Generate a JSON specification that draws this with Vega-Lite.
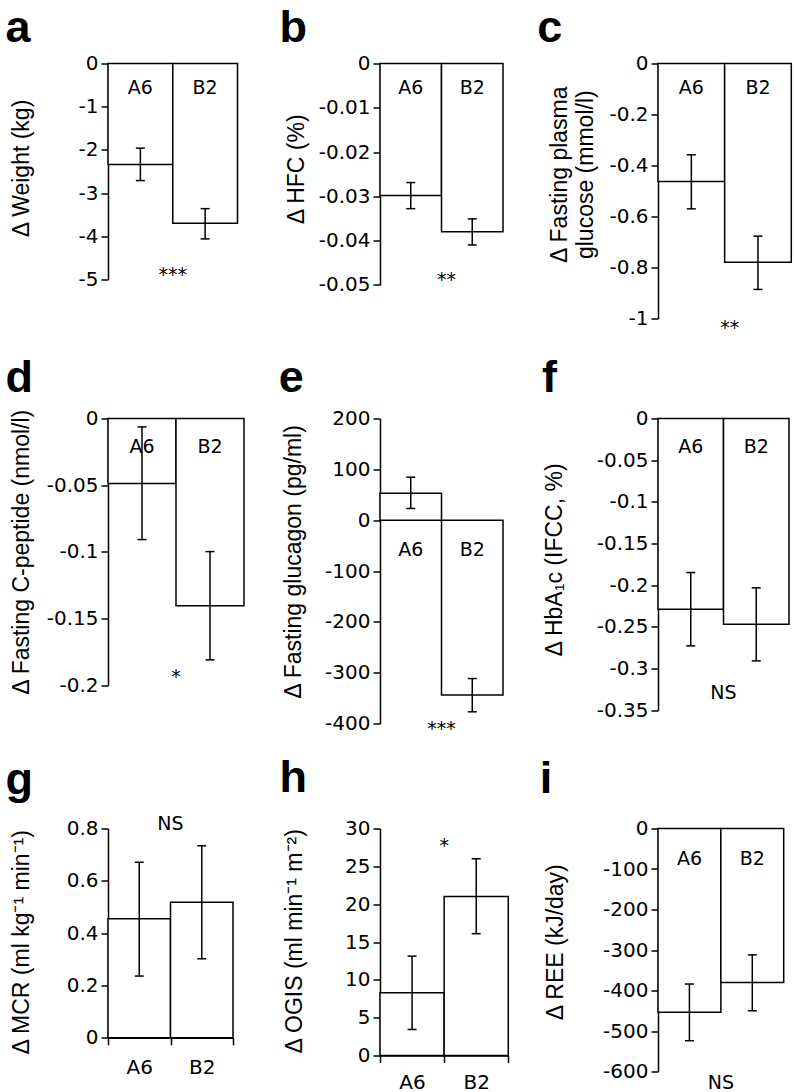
{
  "$schema": "https://vega.github.io/schema/vega-lite/v6.json",
  "background": "white",
  "padding": {"left": 5, "top": 5.5, "right": 5, "bottom": 5},
  "datasets": {
    "bars": [
      {"panel": "a", "group": "A6", "mean": -2.34, "lo": -2.71, "hi": -1.96},
      {"panel": "a", "group": "B2", "mean": -3.70, "lo": -4.06, "hi": -3.36},
      {"panel": "b", "group": "A6", "mean": -0.0298, "lo": -0.0328, "hi": -0.0269},
      {"panel": "b", "group": "B2", "mean": -0.0380, "lo": -0.0410, "hi": -0.0351},
      {"panel": "c", "group": "A6", "mean": -0.463, "lo": -0.570, "hi": -0.358},
      {"panel": "c", "group": "B2", "mean": -0.779, "lo": -0.886, "hi": -0.677},
      {"panel": "d", "group": "A6", "mean": -0.0488, "lo": -0.0908, "hi": -0.0063},
      {"panel": "d", "group": "B2", "mean": -0.1405, "lo": -0.181, "hi": -0.0998},
      {"panel": "e", "group": "A6", "mean": 53, "lo": 23, "hi": 84.6},
      {"panel": "e", "group": "B2", "mean": -344, "lo": -377, "hi": -311.6},
      {"panel": "f", "group": "A6", "mean": -0.2288, "lo": -0.2728, "hi": -0.1848},
      {"panel": "f", "group": "B2", "mean": -0.2468, "lo": -0.2908, "hi": -0.2032},
      {"panel": "g", "group": "A6", "mean": 0.455, "lo": 0.236, "hi": 0.671},
      {"panel": "g", "group": "B2", "mean": 0.5185, "lo": 0.302, "hi": 0.734},
      {"panel": "h", "group": "A6", "mean": 8.28, "lo": 3.44, "hi": 13.13},
      {"panel": "h", "group": "B2", "mean": 21.0, "lo": 16.1, "hi": 26.0},
      {"panel": "i", "group": "A6", "mean": -454, "lo": -524, "hi": -384},
      {"panel": "i", "group": "B2", "mean": -380, "lo": -450, "hi": -312}
    ],
    "sig": [
      {"panel": "a", "sig": "***"},
      {"panel": "b", "sig": "**"},
      {"panel": "c", "sig": "**"},
      {"panel": "d", "sig": "*"},
      {"panel": "e", "sig": "***"},
      {"panel": "f", "sig": "NS"},
      {"panel": "g", "sig": "NS"},
      {"panel": "h", "sig": "*"},
      {"panel": "i", "sig": "NS"}
    ]
  },
  "columns": 3,
  "spacing": {"row": 50, "column": 100},
  "bounds": "flush",
  "align": "each",
  "concat": [
    {
      "width": 171.8, "height": 304.7,
      "title": {"text": "a", "dx": -102.5, "dy": 1.7},
      "data": {"name": "bars"},
      "transform": [{"filter": "datum.panel === 'a'"}],
      "encoding": {"x": {"field": "group", "type": "nominal", "sort": ["A6", "B2"], "scale": {"range": [0, 129.5], "paddingInner": 0, "paddingOuter": 0}, "axis": null}},
      "layer": [
        {"mark": {"type": "bar", "fill": "white", "stroke": "black", "strokeWidth": 1.5},
         "encoding": {"y": {"field": "mean", "type": "quantitative", "scale": {"domain": [-5, 0], "range": [216, 0], "nice": false}, "axis": {"values": [0, -1, -2, -3, -4, -5], "tickCount": 6, "labelExpr": "replace(format(datum.value, '~g'), '−', '-')", "title": "Δ Weight (kg)", "titleX": -79.5, "titleY": 104.5}}}},
        {"mark": {"type": "rule", "color": "black", "strokeWidth": 1.5}, "encoding": {"y": {"field": "lo", "type": "quantitative"}, "y2": {"field": "hi"}}},
        {"mark": {"type": "tick", "color": "black", "size": 9, "thickness": 1.5, "opacity": 1}, "encoding": {"y": {"field": "lo", "type": "quantitative"}}},
        {"mark": {"type": "tick", "color": "black", "size": 9, "thickness": 1.5, "opacity": 1}, "encoding": {"y": {"field": "hi", "type": "quantitative"}}},
        {"mark": {"type": "text", "baseline": "middle", "dy": 24.5, "fontSize": 19, "color": "black"}, "encoding": {"y": {"datum": 0, "type": "quantitative"}, "text": {"field": "group"}}},
        {"data": {"name": "sig"}, "transform": [{"filter": "datum.panel === 'a'"}],
         "mark": {"type": "text", "baseline": "alphabetic", "dy": 1.7, "fontSize": 19, "color": "black"},
         "encoding": {"x": {"datum": "B2", "type": "nominal", "bandPosition": 0}, "y": {"datum": -5, "type": "quantitative"}, "text": {"field": "sig"}}}
      ]
    },
    {
      "width": 177.4, "height": 304.7,
      "title": {"text": "b", "dx": -100.6, "dy": 1.7},
      "data": {"name": "bars"},
      "transform": [{"filter": "datum.panel === 'b'"}],
      "encoding": {"x": {"field": "group", "type": "nominal", "sort": ["A6", "B2"], "scale": {"range": [0, 123], "paddingInner": 0, "paddingOuter": 0}, "axis": null}},
      "layer": [
        {"mark": {"type": "bar", "fill": "white", "stroke": "black", "strokeWidth": 1.5},
         "encoding": {"y": {"field": "mean", "type": "quantitative", "scale": {"domain": [-0.05, 0], "range": [221.3, 0], "nice": false}, "axis": {"values": [0, -0.01, -0.02, -0.03, -0.04, -0.05], "tickCount": 6, "labelExpr": "replace(format(datum.value, '~g'), '−', '-')", "title": "Δ HFC (%)", "titleX": -77, "titleY": 105.4}}}},
        {"mark": {"type": "rule", "color": "black", "strokeWidth": 1.5}, "encoding": {"y": {"field": "lo", "type": "quantitative"}, "y2": {"field": "hi"}}},
        {"mark": {"type": "tick", "color": "black", "size": 9, "thickness": 1.5, "opacity": 1}, "encoding": {"y": {"field": "lo", "type": "quantitative"}}},
        {"mark": {"type": "tick", "color": "black", "size": 9, "thickness": 1.5, "opacity": 1}, "encoding": {"y": {"field": "hi", "type": "quantitative"}}},
        {"mark": {"type": "text", "baseline": "middle", "dy": 24.5, "fontSize": 19, "color": "black"}, "encoding": {"y": {"datum": 0, "type": "quantitative"}, "text": {"field": "group"}}},
        {"data": {"name": "sig"}, "transform": [{"filter": "datum.panel === 'b'"}],
         "mark": {"type": "text", "baseline": "alphabetic", "dy": 1.4, "dx": 5, "fontSize": 19, "color": "black"},
         "encoding": {"x": {"datum": "B2", "type": "nominal", "bandPosition": 0}, "y": {"datum": -0.05, "type": "quantitative"}, "text": {"field": "sig"}}}
      ]
    },
    {
      "width": 133.3, "height": 304.7,
      "title": {"text": "c", "dx": -120.7, "dy": 1.7},
      "data": {"name": "bars"},
      "transform": [{"filter": "datum.panel === 'c'"}],
      "encoding": {"x": {"field": "group", "type": "nominal", "sort": ["A6", "B2"], "scale": {"range": [0, 133.3], "paddingInner": 0, "paddingOuter": 0}, "axis": null}},
      "layer": [
        {"mark": {"type": "bar", "fill": "white", "stroke": "black", "strokeWidth": 1.5},
         "encoding": {"y": {"field": "mean", "type": "quantitative", "scale": {"domain": [-1, 0], "range": [255, 0], "nice": false}, "axis": {"values": [0, -0.2, -0.4, -0.6, -0.8, -1], "tickCount": 6, "labelExpr": "replace(format(datum.value, '~g'), '−', '-')", "title": ["Δ Fasting plasma", "glucose (mmol/l)"], "titleLineHeight": 26.7, "titleX": -92, "titleY": 110.7}}}},
        {"mark": {"type": "rule", "color": "black", "strokeWidth": 1.5}, "encoding": {"y": {"field": "lo", "type": "quantitative"}, "y2": {"field": "hi"}}},
        {"mark": {"type": "tick", "color": "black", "size": 9, "thickness": 1.5, "opacity": 1}, "encoding": {"y": {"field": "lo", "type": "quantitative"}}},
        {"mark": {"type": "tick", "color": "black", "size": 9, "thickness": 1.5, "opacity": 1}, "encoding": {"y": {"field": "hi", "type": "quantitative"}}},
        {"mark": {"type": "text", "baseline": "middle", "dy": 24.5, "fontSize": 19, "color": "black"}, "encoding": {"y": {"datum": 0, "type": "quantitative"}, "text": {"field": "group"}}},
        {"data": {"name": "sig"}, "transform": [{"filter": "datum.panel === 'c'"}],
         "mark": {"type": "text", "baseline": "alphabetic", "dy": 15, "dx": 5, "fontSize": 19, "color": "black"},
         "encoding": {"x": {"datum": "B2", "type": "nominal", "bandPosition": 0}, "y": {"datum": -1, "type": "quantitative"}, "text": {"field": "sig"}}}
      ]
    },
    {
      "width": 171.8, "height": 359.5,
      "title": {"text": "d", "dx": -102.5, "dy": -4},
      "data": {"name": "bars"},
      "transform": [{"filter": "datum.panel === 'd'"}],
      "encoding": {"x": {"field": "group", "type": "nominal", "sort": ["A6", "B2"], "scale": {"range": [0, 136], "paddingInner": 0, "paddingOuter": 0}, "axis": null}},
      "layer": [
        {"mark": {"type": "bar", "fill": "white", "stroke": "black", "strokeWidth": 1.5},
         "encoding": {"y": {"field": "mean", "type": "quantitative", "scale": {"domain": [-0.2, 0], "range": [266.7, 0], "nice": false}, "axis": {"values": [0, -0.05, -0.1, -0.15, -0.2], "tickCount": 5, "labelExpr": "replace(format(datum.value, '~g'), '−', '-')", "title": "Δ Fasting C-peptide (nmol/l)", "titleX": -80, "titleY": 133.3}}}},
        {"mark": {"type": "rule", "color": "black", "strokeWidth": 1.5}, "encoding": {"y": {"field": "lo", "type": "quantitative"}, "y2": {"field": "hi"}}},
        {"mark": {"type": "tick", "color": "black", "size": 9, "thickness": 1.5, "opacity": 1}, "encoding": {"y": {"field": "lo", "type": "quantitative"}}},
        {"mark": {"type": "tick", "color": "black", "size": 9, "thickness": 1.5, "opacity": 1}, "encoding": {"y": {"field": "hi", "type": "quantitative"}}},
        {"mark": {"type": "text", "baseline": "middle", "dy": 28, "fontSize": 19, "color": "black"}, "encoding": {"y": {"datum": 0, "type": "quantitative"}, "text": {"field": "group"}}},
        {"data": {"name": "sig"}, "transform": [{"filter": "datum.panel === 'd'"}],
         "mark": {"type": "text", "baseline": "alphabetic", "dy": -2, "fontSize": 19, "color": "black"},
         "encoding": {"x": {"datum": "B2", "type": "nominal", "bandPosition": 0}, "y": {"datum": -0.2, "type": "quantitative"}, "text": {"field": "sig"}}}
      ]
    },
    {
      "width": 177.4, "height": 359.5,
      "title": {"text": "e", "dx": -101.3, "dy": -4},
      "data": {"name": "bars"},
      "transform": [{"filter": "datum.panel === 'e'"}],
      "encoding": {"x": {"field": "group", "type": "nominal", "sort": ["A6", "B2"], "scale": {"range": [0, 123], "paddingInner": 0, "paddingOuter": 0}, "axis": null}},
      "layer": [
        {"mark": {"type": "bar", "fill": "white", "stroke": "black", "strokeWidth": 1.5},
         "encoding": {"y": {"field": "mean", "type": "quantitative", "scale": {"domain": [-400, 200], "range": [305, 0], "nice": false}, "axis": {"values": [200, 100, 0, -100, -200, -300, -400], "tickCount": 7, "labelExpr": "replace(format(datum.value, '~g'), '−', '-')", "title": "Δ Fasting glucagon (pg/ml)", "titleX": -79.3, "titleY": 143}}}},
        {"mark": {"type": "rule", "color": "black", "strokeWidth": 1.5}, "encoding": {"y": {"field": "lo", "type": "quantitative"}, "y2": {"field": "hi"}}},
        {"mark": {"type": "tick", "color": "black", "size": 9, "thickness": 1.5, "opacity": 1}, "encoding": {"y": {"field": "lo", "type": "quantitative"}}},
        {"mark": {"type": "tick", "color": "black", "size": 9, "thickness": 1.5, "opacity": 1}, "encoding": {"y": {"field": "hi", "type": "quantitative"}}},
        {"mark": {"type": "text", "baseline": "middle", "dy": 30, "fontSize": 19, "color": "black"}, "encoding": {"y": {"datum": 0, "type": "quantitative"}, "text": {"field": "group"}}},
        {"data": {"name": "sig"}, "transform": [{"filter": "datum.panel === 'e'"}],
         "mark": {"type": "text", "baseline": "alphabetic", "dy": 11, "fontSize": 19, "color": "black"},
         "encoding": {"x": {"datum": "B2", "type": "nominal", "bandPosition": 0}, "y": {"datum": -400, "type": "quantitative"}, "text": {"field": "sig"}}}
      ]
    },
    {
      "width": 131, "height": 359.5,
      "title": {"text": "f", "dx": -115.9, "dy": -4},
      "data": {"name": "bars"},
      "transform": [{"filter": "datum.panel === 'f'"}],
      "encoding": {"x": {"field": "group", "type": "nominal", "sort": ["A6", "B2"], "scale": {"range": [0, 131], "paddingInner": 0, "paddingOuter": 0}, "axis": null}},
      "layer": [
        {"mark": {"type": "bar", "fill": "white", "stroke": "black", "strokeWidth": 1.5},
         "encoding": {"y": {"field": "mean", "type": "quantitative", "scale": {"domain": [-0.35, 0], "range": [291.7, 0], "nice": false}, "axis": {"values": [0, -0.05, -0.1, -0.15, -0.2, -0.25, -0.3, -0.35], "tickCount": 8, "labelExpr": "replace(format(datum.value, '~g'), '−', '-')", "title": "Δ HbA₁c (IFCC, %)", "titleX": -96.7, "titleY": 141}}}},
        {"mark": {"type": "rule", "color": "black", "strokeWidth": 1.5}, "encoding": {"y": {"field": "lo", "type": "quantitative"}, "y2": {"field": "hi"}}},
        {"mark": {"type": "tick", "color": "black", "size": 9, "thickness": 1.5, "opacity": 1}, "encoding": {"y": {"field": "lo", "type": "quantitative"}}},
        {"mark": {"type": "tick", "color": "black", "size": 9, "thickness": 1.5, "opacity": 1}, "encoding": {"y": {"field": "hi", "type": "quantitative"}}},
        {"mark": {"type": "text", "baseline": "middle", "dy": 28, "fontSize": 19, "color": "black"}, "encoding": {"y": {"datum": 0, "type": "quantitative"}, "text": {"field": "group"}}},
        {"data": {"name": "sig"}, "transform": [{"filter": "datum.panel === 'f'"}],
         "mark": {"type": "text", "baseline": "alphabetic", "dy": -11.4, "fontSize": 19, "color": "black"},
         "encoding": {"x": {"datum": "B2", "type": "nominal", "bandPosition": 0}, "y": {"datum": -0.35, "type": "quantitative"}, "text": {"field": "sig"}}}
      ]
    },
    {
      "width": 171.8, "height": 209.3,
      "title": {"text": "g", "dx": -102.5, "dy": -8.7},
      "data": {"name": "bars"},
      "transform": [{"filter": "datum.panel === 'g'"}],
      "encoding": {"x": {"field": "group", "type": "nominal", "sort": ["A6", "B2"], "scale": {"range": [0, 125], "paddingInner": 0, "paddingOuter": 0}, "axis": {"orient": "bottom", "tickBand": "extent", "labelAngle": 0, "title": null, "labelPadding": 13, "tickSize": 7}}},
      "layer": [
        {"mark": {"type": "bar", "fill": "white", "stroke": "black", "strokeWidth": 1.5},
         "encoding": {"y": {"field": "mean", "type": "quantitative", "scale": {"domain": [0, 0.8], "nice": false}, "axis": {"values": [0, 0.2, 0.4, 0.6, 0.8], "tickCount": 5, "labelExpr": "replace(format(datum.value, '~g'), '−', '-')", "title": "Δ MCR (ml kg⁻¹ min⁻¹)", "titleX": -80, "titleY": 113.3}}}},
        {"mark": {"type": "rule", "color": "black", "strokeWidth": 1.5}, "encoding": {"y": {"field": "lo", "type": "quantitative"}, "y2": {"field": "hi"}}},
        {"mark": {"type": "tick", "color": "black", "size": 9, "thickness": 1.5, "opacity": 1}, "encoding": {"y": {"field": "lo", "type": "quantitative"}}},
        {"mark": {"type": "tick", "color": "black", "size": 9, "thickness": 1.5, "opacity": 1}, "encoding": {"y": {"field": "hi", "type": "quantitative"}}},
        {"data": {"name": "sig"}, "transform": [{"filter": "datum.panel === 'g'"}],
         "mark": {"type": "text", "baseline": "alphabetic", "dy": 1.8, "fontSize": 19, "color": "black"},
         "encoding": {"x": {"datum": "B2", "type": "nominal", "bandPosition": 0}, "y": {"datum": 0.8, "type": "quantitative"}, "text": {"field": "sig"}}}
      ]
    },
    {
      "width": 177.4, "height": 227,
      "title": {"text": "h", "dx": -100.6, "dy": -13.5},
      "data": {"name": "bars"},
      "transform": [{"filter": "datum.panel === 'h'"}],
      "encoding": {"x": {"field": "group", "type": "nominal", "sort": ["A6", "B2"], "scale": {"range": [0, 128.3], "paddingInner": 0, "paddingOuter": 0}, "axis": {"orient": "bottom", "tickBand": "extent", "labelAngle": 0, "title": null, "labelPadding": 10, "tickSize": 7}}},
      "layer": [
        {"mark": {"type": "bar", "fill": "white", "stroke": "black", "strokeWidth": 1.5},
         "encoding": {"y": {"field": "mean", "type": "quantitative", "scale": {"domain": [0, 30], "nice": false}, "axis": {"values": [0, 5, 10, 15, 20, 25, 30], "tickCount": 7, "labelExpr": "replace(format(datum.value, '~g'), '−', '-')", "title": "Δ OGIS (ml min⁻¹ m⁻²)", "titleX": -78.8, "titleY": 112.3}}}},
        {"mark": {"type": "rule", "color": "black", "strokeWidth": 1.5}, "encoding": {"y": {"field": "lo", "type": "quantitative"}, "y2": {"field": "hi"}}},
        {"mark": {"type": "tick", "color": "black", "size": 9, "thickness": 1.5, "opacity": 1}, "encoding": {"y": {"field": "lo", "type": "quantitative"}}},
        {"mark": {"type": "tick", "color": "black", "size": 9, "thickness": 1.5, "opacity": 1}, "encoding": {"y": {"field": "hi", "type": "quantitative"}}},
        {"data": {"name": "sig"}, "transform": [{"filter": "datum.panel === 'h'"}],
         "mark": {"type": "text", "baseline": "alphabetic", "dy": 23.9, "fontSize": 19, "color": "black"},
         "encoding": {"x": {"datum": "B2", "type": "nominal", "bandPosition": 0}, "y": {"datum": 30, "type": "quantitative"}, "text": {"field": "sig"}}}
      ]
    },
    {
      "width": 125.7, "height": 243,
      "title": {"text": "i", "dx": -118.2, "dy": -13},
      "data": {"name": "bars"},
      "transform": [{"filter": "datum.panel === 'i'"}],
      "encoding": {"x": {"field": "group", "type": "nominal", "sort": ["A6", "B2"], "scale": {"range": [0, 125.7], "paddingInner": 0, "paddingOuter": 0}, "axis": null}},
      "layer": [
        {"mark": {"type": "bar", "fill": "white", "stroke": "black", "strokeWidth": 1.5},
         "encoding": {"y": {"field": "mean", "type": "quantitative", "scale": {"domain": [-600, 0], "nice": false}, "axis": {"values": [0, -100, -200, -300, -400, -500, -600], "tickCount": 7, "labelExpr": "replace(format(datum.value, '~g'), '−', '-')", "title": "Δ REE (kJ/day)", "titleX": -95.7, "titleY": 113.2}}}},
        {"mark": {"type": "rule", "color": "black", "strokeWidth": 1.5}, "encoding": {"y": {"field": "lo", "type": "quantitative"}, "y2": {"field": "hi"}}},
        {"mark": {"type": "tick", "color": "black", "size": 9, "thickness": 1.5, "opacity": 1}, "encoding": {"y": {"field": "lo", "type": "quantitative"}}},
        {"mark": {"type": "tick", "color": "black", "size": 9, "thickness": 1.5, "opacity": 1}, "encoding": {"y": {"field": "hi", "type": "quantitative"}}},
        {"mark": {"type": "text", "baseline": "middle", "dy": 30, "fontSize": 19, "color": "black"}, "encoding": {"y": {"datum": 0, "type": "quantitative"}, "text": {"field": "group"}}},
        {"data": {"name": "sig"}, "transform": [{"filter": "datum.panel === 'i'"}],
         "mark": {"type": "text", "baseline": "alphabetic", "dy": 17, "fontSize": 19, "color": "black"},
         "encoding": {"x": {"datum": "B2", "type": "nominal", "bandPosition": 0}, "y": {"datum": -600, "type": "quantitative"}, "text": {"field": "sig"}}}
      ]
    }
  ],
  "config": {
    "font": "Liberation Sans",
    "view": {"stroke": null},
    "text": {"font": "DejaVu Sans"},
    "title": {"anchor": "start", "frame": "group", "offset": 0, "baseline": "alphabetic", "fontSize": 45, "fontWeight": "bold", "font": "Liberation Sans", "color": "black"},
    "axis": {"domainColor": "black", "domainWidth": 1.5, "tickColor": "black", "tickWidth": 1.5, "tickSize": 7, "labelColor": "black", "labelFont": "DejaVu Sans", "labelFontSize": 20, "labelPadding": 3, "titleColor": "black", "titleFont": "Liberation Sans", "titleFontSize": 23, "titleFontWeight": "normal", "grid": false, "labelOverlap": false},
    "axisY": {"titleBaseline": "alphabetic", "titleAlign": "center", "titleAngle": -90}
  }
}
